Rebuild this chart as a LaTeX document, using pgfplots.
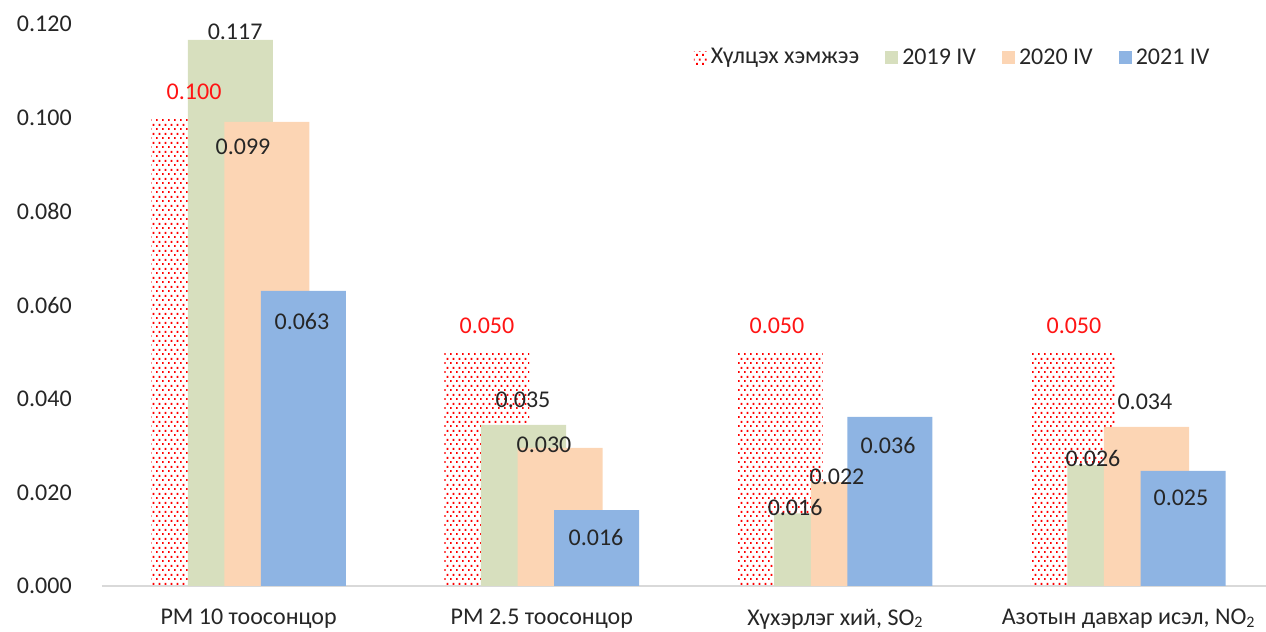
\documentclass[border=0pt]{standalone}
\usepackage{pgfplots}
\pgfplotsset{compat=1.18}
\usepackage{fontspec}
\setmainfont{Carlito}
\usetikzlibrary{patterns.meta}
\definecolor{cgreen}{RGB}{215,223,190}
\definecolor{corange}{RGB}{252,213,180}
\definecolor{cblue}{RGB}{142,180,227}
\definecolor{cred}{RGB}{255,20,20}
\definecolor{ctext}{RGB}{38,38,38}
\newcommand{\subtwo}{\raisebox{-1.2pt}{\fontsize{8}{8}\selectfont 2}}
\tikzdeclarepattern{
  name=exceldots,
  type=uncolored,
  bottom left={(0pt,0pt)},
  top right={(3pt,4.3pt)},
  tile size={(3pt,4.3pt)},
  code={
    \fill (0.05pt,0.05pt) rectangle (1.0pt,1.0pt);
    \fill (1.55pt,2.2pt) rectangle (2.5pt,3.15pt);
  }
}
\begin{document}
\begin{tikzpicture}
\path[use as bounding box] (-51pt,-23pt) rectangle (582pt,293pt);
\begin{axis}[
  at={(0pt,0pt)}, anchor=south west,
  scale only axis, width=582pt, height=281pt,
  xmin=-0.5, xmax=3.47, ymin=0, ymax=0.12,
  axis x line=bottom, axis y line=left,
  x axis line style={-, draw={rgb,255:red,217;green,217;blue,217}, line width=1pt},
  y axis line style={draw=none},
  tick style={draw=none},
  xtick={0,1,2,3},
  xticklabels={PM 10 тоосонцор, PM 2.5 тоосонцор, {Хүхэрлэг хий, SO\subtwo}, {Азотын давхар исэл, NO\subtwo}},
  ytick={0,0.02,0.04,0.06,0.08,0.1,0.12},
  scaled y ticks=false,
  yticklabel style={/pgf/number format/.cd, fixed, fixed zerofill, precision=3, /tikz/.cd, xshift=-9.5pt},
  /pgf/number format/assume math mode=true,
  ticklabel style={font=\fontsize{12}{14}\selectfont, text=ctext},
  xticklabel style={yshift=-6pt, text depth=0pt},
  clip=false,
  legend style={at={(0.503,0.94)}, anchor=west, draw=none, fill=none,
    legend columns=4, font=\fontsize{12}{14}\selectfont, text=ctext,
    /tikz/every even column/.append style={column sep=11pt}},
  legend image code/.code={\fill[#1] (0pt,-3.25pt) rectangle (6.5pt,3.25pt);},
]
\addplot[ybar, bar width=0.29, bar shift=-0.187, draw=none, pattern=exceldots, pattern color=red]
  coordinates {(0,0.1001) (1,0.050) (2,0.050) (3,0.050)};
\addlegendentry{Хүлцэх хэмжээ}
\addplot[ybar, bar width=0.29, bar shift=-0.0624, draw=none, fill=cgreen]
  coordinates {(0,0.1166) (1,0.0344) (2,0.0155) (3,0.0258)};
\addlegendentry{2019 IV}
\addplot[ybar, bar width=0.29, bar shift=0.0624, draw=none, fill=corange]
  coordinates {(0,0.0991) (1,0.0295) (2,0.0222) (3,0.0340)};
\addlegendentry{2020 IV}
\addplot[ybar, bar width=0.29, bar shift=0.187, draw=none, fill=cblue]
  coordinates {(0,0.0630) (1,0.0162) (2,0.0361) (3,0.0246)};
\addlegendentry{2021 IV}
% red labels
\addplot[forget plot, draw=none, mark=none, nodes near coords, point meta=explicit symbolic,
  every node near coord/.append style={anchor=center, font=\fontsize{12}{14}\selectfont, text=cred}]
  table[meta=lab] {
x y lab
-0.186 0.1055 0.100
0.813 0.0555 0.050
1.802 0.0555 0.050
2.815 0.0555 0.050
};
% black labels
\addplot[forget plot, draw=none, mark=none, nodes near coords, point meta=explicit symbolic,
  every node near coord/.append style={anchor=center, font=\fontsize{12}{14}\selectfont, text=ctext}]
  table[meta=lab] {
x y lab
-0.046 0.1183 0.117
-0.019 0.0937 0.099
0.182 0.0564 0.063
0.936 0.0397 0.035
1.0075 0.0301 0.030
1.185 0.0103 0.016
1.864 0.0167 0.016
2.007 0.0233 0.022
2.181 0.0301 0.036
2.880 0.0273 0.026
3.057 0.0393 0.034
3.180 0.0188 0.025
};
\end{axis}
\end{tikzpicture}
\end{document}
